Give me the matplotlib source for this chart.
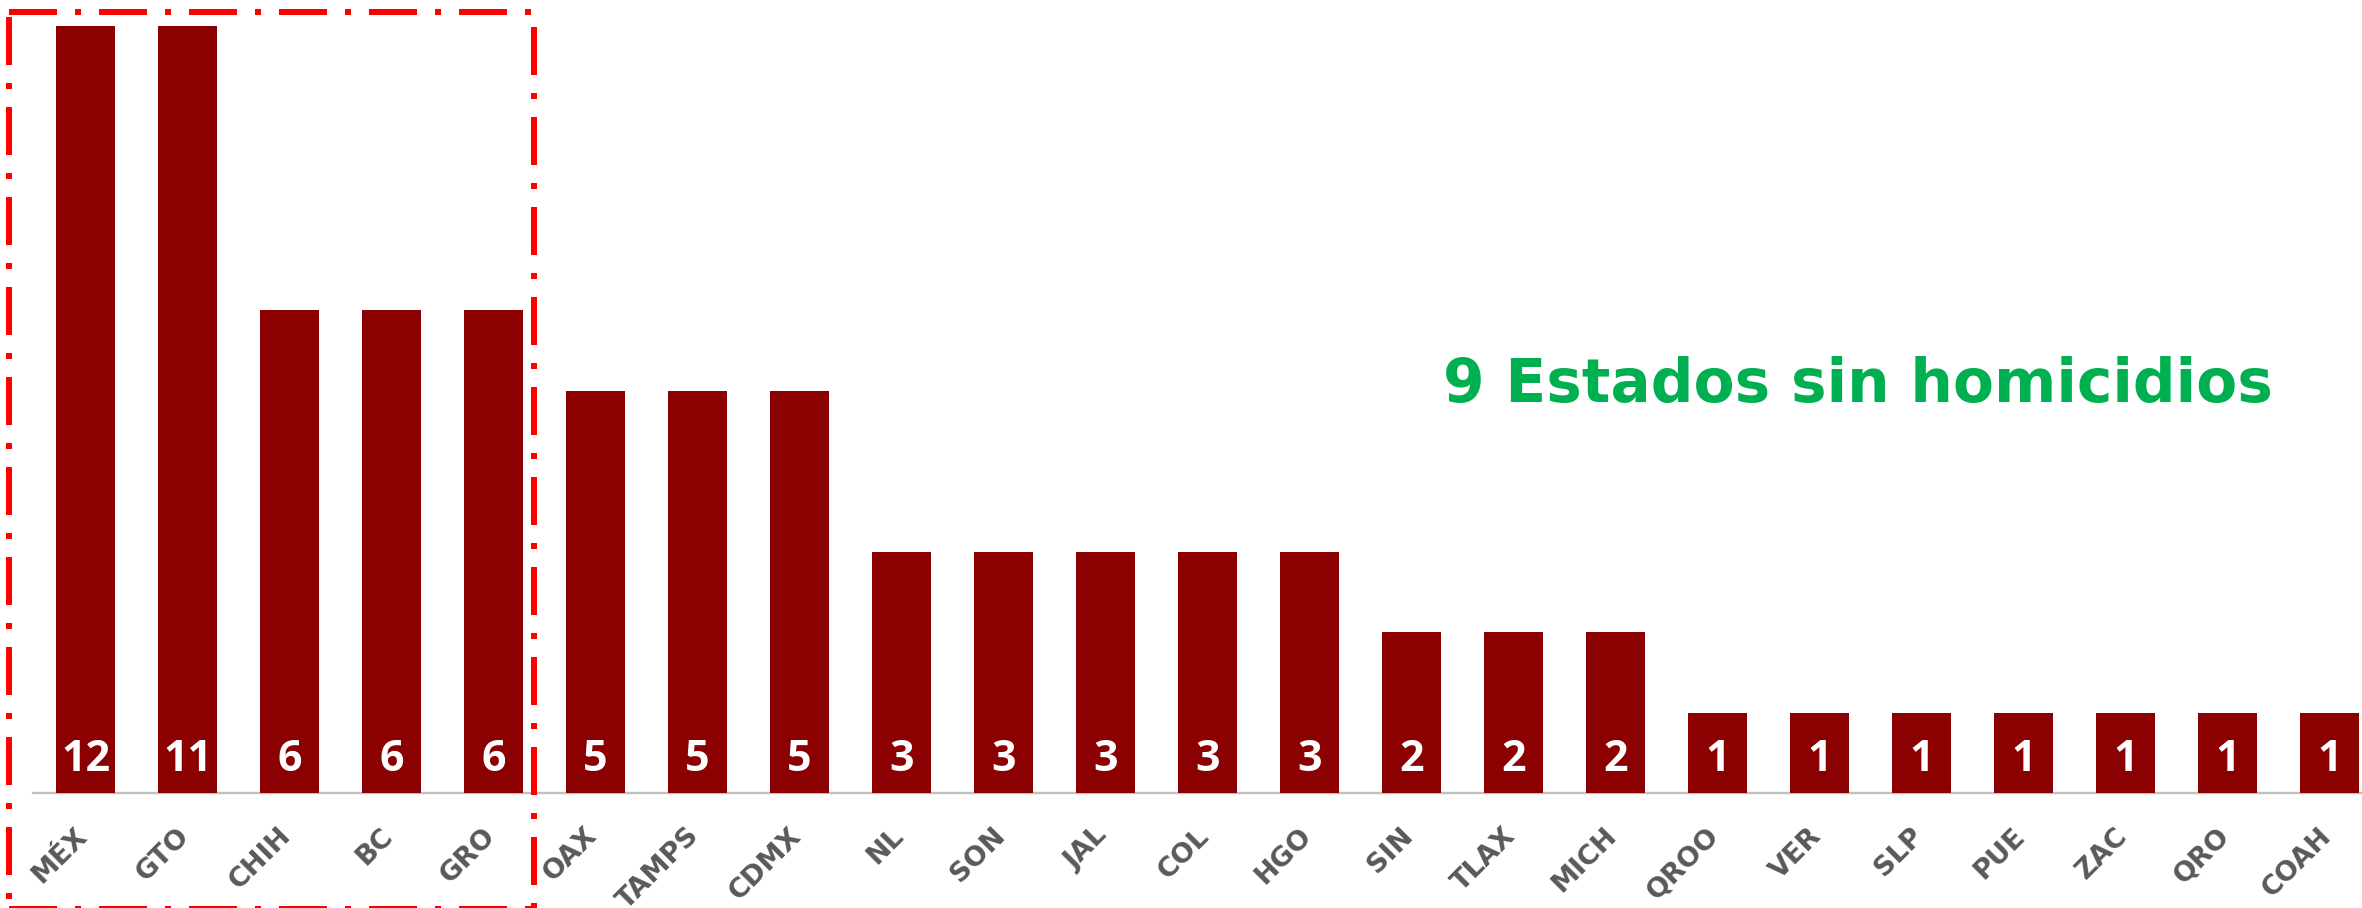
import matplotlib
matplotlib.use('Agg')
import matplotlib.pyplot as plt
from matplotlib.transforms import ScaledTranslation, blended_transform_factory
from matplotlib.lines import Line2D

states = ['MÉX', 'GTO', 'CHIH', 'BC', 'GRO', 'OAX', 'TAMPS', 'CDMX', 'NL', 'SON',
          'JAL', 'COL', 'HGO', 'SIN', 'TLAX', 'MICH', 'QROO', 'VER', 'SLP', 'PUE',
          'ZAC', 'QRO', 'COAH']
values = [12, 11, 6, 6, 6, 5, 5, 5, 3, 3, 3, 3, 3, 2, 2, 2, 1, 1, 1, 1, 1, 1, 1]
note = '9 Estados sin homicidios'

FONT = 'DejaVu Sans'
plt.rcParams['font.family'] = [FONT]

W, H = 2362, 908
fig = plt.figure(figsize=(W / 100, H / 100), dpi=100)
fig.patch.set_facecolor('white')

base_y = 793
top_y = 26
ax = fig.add_axes([33 / W, (H - base_y) / H, 1 - 33 / W, (base_y - top_y) / H])
ax.set_facecolor('none')
xs = list(range(len(states)))
ax.bar(xs, values, width=0.58, color='#8B0000', zorder=2)
ax.set_xlim(-0.515, 22.32)
ax.set_ylim(0, 9.53)
for s in ['top', 'right', 'left']:
    ax.spines[s].set_visible(False)
ax.spines['bottom'].set_color('#BFBFBF')
ax.spines['bottom'].set_linewidth(1.7)
ax.spines['bottom'].set_zorder(1)
ax.set_yticks([])
ax.set_xticks(xs)
ax.set_xticklabels([])
ax.tick_params(axis='x', length=0)

# value labels
for i, v in zip(xs, values):
    ax.text(i, 0.27, str(v), ha='center', va='baseline', color='white',
            fontsize=31, fontweight='bold', zorder=3,
            family=['Open Sans', 'DejaVu Sans'])

# category labels
trans = blended_transform_factory(ax.transData, ax.transAxes) + \
    ScaledTranslation(-2 / 100, -39 / 100, fig.dpi_scale_trans)
for i, lab in zip(xs, states):
    ax.text(i, 0, lab, transform=trans, rotation=45, rotation_mode='anchor',
            ha='right', va='center', color='#595959', fontsize=19.5,
            fontweight='bold', clip_on=False)

# green note, fitted to the reference width
t = fig.text(1443 / W, 1 - 402 / H, note, ha='left', va='baseline',
             color='#00B050', fontsize=50, fontweight='bold')
r = fig.canvas.get_renderer()
wpx = t.get_window_extent(r).width
t.set_fontsize(50 * 830 / wpx)

# red dash-dot frame
def fl(x0, y0, x1, y1):
    ln = Line2D([x0 / W, x1 / W], [1 - y0 / H, 1 - y1 / H], transform=fig.transFigure,
                color='#FF0000', linewidth=4.32, linestyle=(0, (8, 3, 1, 3)),
                dash_capstyle='butt', solid_capstyle='butt')
    fig.add_artist(ln)

fl(9, 11.5, 537, 11.5)
fl(9.5, 17, 9.5, 912)
fl(534, 27, 534, 912)
fl(9, 909, 537, 909)

fig.savefig('out.png', dpi=100, facecolor='white')
